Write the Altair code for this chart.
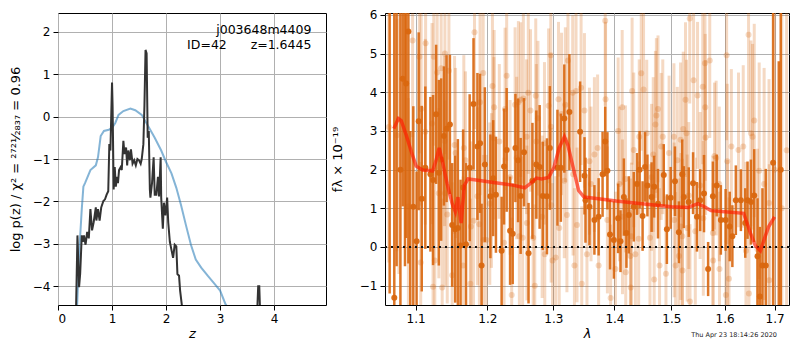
import altair as alt
import pandas as pd

# ---------------- Left panel: redshift probability ----------------
prior_z = [0.35, 0.39, 0.44, 0.47, 0.50, 0.60, 0.70, 0.74, 0.79, 0.85, 0.94, 1.00, 1.06, 1.12,
           1.21, 1.34, 1.43, 1.55, 1.67, 1.79, 1.91, 2.00, 2.10, 2.19, 2.28, 2.37, 2.46, 2.55,
           2.65, 2.77, 2.89, 3.00, 3.10, 3.20]
prior_logp = [-4.6, -3.25, -2.18, -1.65, -1.57, -1.26, -1.15, -0.96, -0.46, -0.34, -0.31, -0.27,
              -0.15, 0.04, 0.13, 0.19, 0.15, 0.04, -0.23, -0.5, -0.8, -1.07, -1.34, -1.68, -2.1,
              -2.57, -3.02, -3.37, -3.56, -3.75, -3.93, -4.1, -4.42, -4.6]

pz_z = [0.33, 0.36, 0.39, 0.41, 0.44, 0.46, 0.48, 0.51, 0.54, 0.57, 0.60, 0.63, 0.66, 0.70,
        0.71, 0.74, 0.77, 0.80, 0.84, 0.87, 0.90, 0.93, 0.95, 0.97, 1.00, 1.01, 1.03, 1.05,
        1.07, 1.09, 1.11, 1.13, 1.16, 1.18, 1.21, 1.23, 1.26, 1.28, 1.30, 1.33, 1.35, 1.38,
        1.41, 1.44, 1.47, 1.50, 1.53, 1.55, 1.58, 1.60, 1.62, 1.64, 1.66, 1.68, 1.70, 1.71,
        1.74, 1.77, 1.79, 1.82, 1.85, 1.87, 1.90, 1.91, 1.94, 1.96, 1.99, 2.02, 2.04, 2.07,
        2.10, 2.13, 2.16, 2.19, 2.21, 2.24, 2.26, 2.29, 2.32]
pz_logp = [-4.8, -2.8, -4.02, -3.71, -2.8, -2.95, -2.8, -3.02, -2.72, -2.87, -2.18, -2.68,
           -2.49, -2.14, -2.45, -2.18, -2.45, -2.14, -1.99, -1.95, -1.84, -1.76, -0.65, -0.8,
           0.8, 0.27, -1.72, -1.19, -1.65, -1.42, -1.57, -1.26, -1.19, -1.26, -0.57, -0.88,
           -0.73, -1.15, -0.8, -1.03, -0.77, -1.11, -1.03, -1.15, -1.0, -1.03, -1.11, -1.0,
           -0.65, 0.27, 1.57, 1.49, -0.5, -0.34, -1.72, -1.91, -1.57, -0.96, -1.84, -1.84,
           -1.42, -1.88, -0.96, -1.91, -2.64, -2.03, -2.33, -1.91, -2.49, -2.95, -3.14, -3.33,
           -3.02, -3.06, -3.71, -3.75, -4.1, -4.42, -4.8]
spike_z = [3.68, 3.705, 3.725, 3.745]
spike_logp = [-4.8, -4.0, -4.0, -4.8]

label_z = [4.69, 4.69]
label_logp = [2.03, 1.69]
label_text = ["j003648m4409", "ID=42\u00a0\u00a0\u00a0\u00a0\u00a0\u00a0z=1.6445"]

# ---------------- Right panel: spectrum ----------------
model_lam = [1.0714, 1.0773, 1.081, 1.0877, 1.0943, 1.1008, 1.1097, 1.123, 1.1274, 1.1319,
             1.1364, 1.143, 1.150, 1.1544, 1.158, 1.1625, 1.167, 1.1723, 1.1813, 1.209,
             1.2375, 1.2557, 1.2636, 1.2736, 1.2816, 1.2926, 1.3009, 1.3092, 1.3176, 1.323,
             1.3317, 1.3405, 1.3493, 1.373, 1.403, 1.4473, 1.500, 1.5305, 1.5488, 1.5612,
             1.5738, 1.600, 1.6375, 1.651, 1.661, 1.671, 1.681, 1.688, 1.700]
model_flux = [3.06, 3.32, 3.27, 2.89, 2.47, 2.09, 1.99, 1.97, 2.22, 2.56, 2.22, 1.63, 1.12,
              0.91, 1.29, 0.62, 1.59, 1.76, 1.74, 1.67, 1.60, 1.53, 1.63, 1.78, 1.76, 1.80,
              2.05, 2.56, 2.85, 2.64, 2.05, 1.46, 1.29, 1.25, 1.19, 1.12, 1.04, 1.02, 1.12,
              1.04, 0.94, 0.91, 0.87, 0.36, 0.03, -0.10, 0.28, 0.53, 0.78]

dark_lam = [1.066, 1.072, 1.075, 1.080, 1.083, 1.086, 1.0875, 1.0905, 1.093, 1.097, 1.1014,
            1.1042, 1.1083, 1.1131, 1.120, 1.1236, 1.1278, 1.1315, 1.1347, 1.1385, 1.1422,
            1.1468, 1.150, 1.1542, 1.1579, 1.1617, 1.1653, 1.1694, 1.1746, 1.1801, 1.1857,
            1.1895, 1.1917, 1.1964,
            1.2045, 1.2086, 1.2126, 1.221, 1.2246, 1.2285, 1.2336, 1.2375, 1.2416, 1.2456,
            1.2495, 1.2546, 1.2615, 1.2675, 1.2735, 1.2786, 1.2835, 1.290, 1.2945, 1.3065,
            1.3119, 1.3174, 1.3256, 1.3429, 1.3517, 1.3501,
            1.3582, 1.3664, 1.3734, 1.380, 1.3844, 1.3881, 1.3925, 1.399, 1.4063, 1.4103,
            1.4161, 1.4205, 1.4246, 1.4332, 1.4388, 1.4434, 1.4486, 1.453, 1.4571, 1.4645,
            1.4691, 1.4759, 1.4863, 1.4919, 1.4988, 1.5066, 1.5138, 1.520,
            1.5229, 1.532, 1.540, 1.5473, 1.5533, 1.5606, 1.5684, 1.5775, 1.5848, 1.5928,
            1.602, 1.610, 1.6152, 1.622, 1.632, 1.6406, 1.6452, 1.652, 1.6586, 1.6652,
            1.670, 1.6752, 1.682, 1.697, 1.7087, 1.7128]
dark_flux = [6.8, -1.31, 7.0, 2.0, 4.35, 6.5, 4.23, 5.57, -2.0, 1.04, 0.15,
             3.25, 1.25, 2.05, 1.88, 1.73, 3.43, 1.92, 2.26, 2.87, 3.06,
             3.17, 0.57, 0.46, 0.49, 0.04, 1.54, 0.07, 2.05, 3.7, 2.6,
             2.68, -0.48, 2.13,
             1.31, 1.78, 1.35, -0.1, 2.08, 2.51, 0.42, 0.34, 2.56, 2.24,
             1.32, 2.45, -0.16, 1.71, 2.13, 2.07, 1.32, 1.31, 2.56, 2.05,
             2.05, 3.32, 3.49, 2.98, 1.21, 1.84,
             1.04, 0.7, 0.78, 1.88, 2.73, 1.97, 0.32, 0.18, 0.74, 0.15,
             1.29, 0.36, 0.83, 1.04, 1.63, 2.0, 0.8, 2.07, 1.59, 1.29,
             1.56, 1.12, 1.86, 0.46, 1.27, 1.7, 0.38, 1.88,
             1.29, 1.16, 1.65, 0.78, 1.21, 1.38, -0.57, 1.31, 1.59, 0.7,
             0.7, 0.53, 0.28, 1.21, 1.21, 0.62, 1.21, 1.16, 1.33, -0.24,
             -1.28, -0.48, -0.48, 2.18, -3.0, 2.0]
dark_err = [8.0, 8.0, 7.5, 6.0, 3.3, 7.0, 4.0, 6.0, 5.0, 2.6, 1.8,
            2.3, 2.4, 2.1, 2.0, 2.2, 1.8, 2.4, 2.1, 1.8, 1.9,
            1.8, 1.6, 1.9, 2.3, 1.7, 1.5, 2.1, 1.9, 1.7, 1.9,
            1.8, 1.6, 2.0,
            1.6, 1.5, 1.5, 1.4, 1.5, 1.6, 1.4, 1.3, 1.4, 1.6,
            1.5, 1.4, 1.3, 1.5, 1.4, 1.6, 1.4, 1.5, 1.6, 1.5,
            1.4, 1.4, 1.5, 1.3, 1.1, 1.0,
            1.0, 0.9, 1.0, 1.1, 0.9, 1.0, 0.9, 1.0, 0.9, 0.8,
            1.0, 0.9, 1.0, 0.9, 0.8, 1.0, 0.9, 0.9, 0.8, 0.9,
            0.8, 0.9, 0.8, 0.9, 0.8, 0.9, 0.8, 0.9,
            0.8, 0.9, 0.8, 0.9, 0.8, 1.0, 0.7, 0.9, 0.8, 0.9,
            0.8, 0.9, 0.8, 0.9, 0.8, 0.9, 1.0, 1.1, 1.2, 1.5,
            1.8, 2.0, 2.5, 6.0, 7.8, 10.0]

light_lam = [1.065, 1.0753, 1.078, 1.0961, 1.1135, 1.1051, 1.1246, 1.1292, 1.1347, 1.1399,
             1.1454, 1.1075, 1.1222, 1.1131, 1.1394, 1.1533, 1.1663, 1.1547, 1.1686, 1.1315,
             1.1401, 1.1431, 1.0905, 1.1764, 1.1801, 1.1885, 1.1857, 1.1895, 1.194, 1.1815,
             1.1069, 1.126, 1.1236, 1.1361, 1.150, 1.1756, 1.1945, 1.1653,
             1.2075, 1.210, 1.2285, 1.2261, 1.2411, 1.2461, 1.2495, 1.2536, 1.2611, 1.2726,
             1.2645, 1.276, 1.296, 1.2926, 1.2962, 1.3082, 1.313, 1.3233, 1.3191, 1.3309,
             1.3363, 1.3445, 1.350, 1.2096, 1.2176, 1.2336, 1.2435, 1.2585, 1.2735, 1.2861,
             1.3174, 1.3315, 1.3379, 1.3216, 1.3093, 1.2966, 1.2825, 1.2686, 1.2525, 1.2476,
             1.2246, 1.2036, 1.206, 1.1986, 1.236, 1.2711, 1.2866, 1.2987, 1.3037, 1.3337,
             1.3456, 1.259,
             1.3844, 1.385, 1.4462, 1.4503, 1.4303, 1.4132, 1.4759, 1.473, 1.4713, 1.4063,
             1.4427, 1.4559, 1.4845, 1.5047, 1.5169, 1.4816, 1.4332, 1.3717, 1.3664, 1.3582,
             1.3608, 1.4188, 1.4674, 1.4645, 1.4959, 1.5109, 1.4086, 1.3881, 1.4137, 1.4291,
             1.4417, 1.4616, 1.5052, 1.5174, 1.3541, 1.3734, 1.4017, 1.4193, 1.4274, 1.436,
             1.4787, 1.4691, 1.4902, 1.5078, 1.5138, 1.3935, 1.428,
             1.5338, 1.6472, 1.5624, 1.5715, 1.604, 1.541, 1.5582, 1.5484, 1.526, 1.563,
             1.5218, 1.5278, 1.5636, 1.6586, 1.652, 1.6552, 1.6132, 1.6272, 1.6366, 1.5806,
             1.5837, 1.6052, 1.6686, 1.6786, 1.6886, 1.5533, 1.5897, 1.532, 1.5593, 1.5291,
             1.520, 1.5442, 1.5775, 1.6057, 1.642, 1.6652, 1.5205, 1.578, 1.5902, 1.6086,
             1.648, 1.6891, 1.5343, 1.6025, 1.700, 1.715, 1.725]
light_flux = [3.1, 2.89, 3.3, 5.34, 5.27, 4.92, 4.92, 4.51, 4.62, 5.0,
              4.56, 3.57, 3.19, 2.98, 2.74, 2.64, 2.56, 2.43, 2.24, 1.39,
              1.39, 0.84, 1.05, 0.53, 0.68, 0.59, 1.31, 3.74, 4.5, 5.55,
              -0.4, -0.35, -1.03, -1.05, -0.73, -0.95, 0.18, -0.48,
              4.16, 3.61, 4.43, 3.57, 3.68, 3.74, 3.81, 3.84, 3.99, 3.91,
              3.53, 3.33, 4.96, 3.65, 3.11, 3.82, 3.44, 4.82, 3.68, 3.99,
              4.03, 4.12, 3.53, 2.81, 2.73, 1.8, 2.3, 2.85, 2.73, 2.68,
              1.71, 1.88, 0.57, 0.83, 0.49, 1.08, 0.78, 0.24, 0.24, 0.28,
              0.11, 1.12, 1.46, 0.18, -1.24, -1.0, -0.19, -0.35, -0.27, -0.48,
              -0.95, 0.62,
              5.85, 3.82, 4.49, 4.07, 4.03, 3.61, 3.57, 3.4, 3.17, 3.0,
              2.85, 2.94, 2.85, 2.85, 2.77, 2.6, 2.51, 2.56, 2.39, 2.22,
              1.63, 1.76, 2.39, 1.8, 2.43, 2.24, 1.63, 0.7, 0.78, 0.28,
              0.21, 0.24, 0.7, 0.53, -0.19, -0.48, -0.57, -0.65, -0.23, -0.19,
              -0.48, -0.84, -0.69, -0.48, -0.23, -1.32, -1.05,
              5.91, 5.49, 4.75, 4.82, 4.96, 4.31, 4.14, 3.92, 3.81, 3.61,
              3.05, 2.94, 2.83, 3.27, 2.94, 2.85, 2.6, 2.51, 2.6, 2.35,
              2.3, 2.22, 1.97, 1.63, 1.14, 1.59, 1.63, 1.33, 0.74, 0.49,
              0.28, 0.41, 0.36, 0.15, -0.1, -0.06, -0.61, -0.35, -0.57, -0.82,
              -1.2, -0.86, -1.41, -1.24, 2.0, 1.0, 2.5]
light_err = [3.5, 3.0, 4.0, 2.5, 2.5, 2.5, 2.3, 2.5, 2.4, 2.6,
             2.3, 2.5, 2.6, 2.4, 2.2, 2.3, 2.4, 2.2, 2.3, 2.2,
             2.4, 2.3, 2.8, 2.2, 2.3, 2.1, 2.3, 2.4, 2.3, 2.5,
             2.6, 2.4, 2.5, 2.3, 2.4, 2.2, 2.2, 2.3,
             2.2, 2.0, 2.2, 2.1, 2.0, 2.1, 2.0, 2.2, 2.1, 2.0,
             2.1, 2.0, 2.2, 2.0, 1.9, 2.0, 2.1, 2.2, 2.0, 2.0,
             2.1, 2.0, 2.0, 2.1, 2.0, 2.0, 2.1, 2.0, 2.0, 2.1,
             2.0, 2.1, 2.0, 2.0, 2.1, 2.0, 2.1, 2.0, 2.1, 2.0,
             2.2, 2.1, 2.0, 2.2, 2.0, 2.1, 2.0, 2.0, 2.1, 2.0,
             2.0, 2.0,
             2.2, 2.0, 2.0, 2.0, 1.9, 2.0, 1.9, 2.0, 1.9, 1.9,
             2.0, 1.9, 2.0, 1.9, 2.0, 1.9, 2.0, 1.9, 2.0, 1.9,
             2.0, 1.9, 2.0, 1.9, 2.0, 1.9, 2.0, 1.9, 2.0, 1.9,
             2.0, 1.9, 2.0, 1.9, 2.0, 1.9, 2.0, 1.9, 2.0, 1.9,
             2.0, 1.9, 2.0, 1.9, 2.0, 1.9, 2.0,
             2.2, 2.5, 2.0, 2.0, 2.2, 2.0, 2.0, 1.9, 2.0, 1.9,
             2.0, 1.9, 2.0, 2.5, 2.4, 2.4, 2.0, 2.0, 2.1, 1.9,
             2.0, 2.0, 2.8, 3.0, 3.2, 1.9, 2.0, 1.9, 2.0, 1.9,
             2.0, 1.9, 2.0, 2.1, 2.3, 2.6, 1.9, 2.0, 2.0, 2.1,
             2.3, 3.0, 2.0, 2.1, 5.0, 6.0, 6.0]

zero_level = [0]
timestamp = ["Thu Apr 23 18:14:26 2020"]

ORANGE = "#d9670f"
FONT = "DejaVu Sans"
H = 292
WL = 268
WR = 404

# ---------------- build left ----------------
zscale = alt.Scale(domain=[0, 4.96], nice=False, zero=False)
lpscale = alt.Scale(domain=[-4.44, 2.44], nice=False, zero=False)
xz = alt.X("z:Q", scale=zscale,
           axis=alt.Axis(values=[0, 1, 2, 3, 4], title="z", titleFontStyle="italic",
                         titlePadding=3))
ylp = alt.Y("logp:Q", scale=lpscale,
            axis=alt.Axis(values=[-4, -3, -2, -1, 0, 1, 2],
                          title="log p(z) / \u03c7\u00b2 = \u00b2\u2077\u00b2\u00b9\u2044\u2082\u2088\u2083\u2087 = 0.96",
                          titlePadding=10))

prior_df = pd.DataFrame({"z": prior_z, "logp": prior_logp})
pz_df = pd.DataFrame({"z": pz_z + spike_z, "logp": pz_logp + spike_logp,
                      "seg": ["a"] * len(pz_z) + ["b"] * len(spike_z)})
lab_df = pd.DataFrame({"z": label_z, "logp": label_logp, "t": label_text})

prior_line = alt.Chart(prior_df).mark_line(color="#1f77b4", opacity=0.55, strokeWidth=2,
                                           clip=True).encode(x=xz, y=ylp)
pz_line = alt.Chart(pz_df).mark_line(color="#333333", strokeWidth=2, clip=True).encode(
    x=xz, y=ylp, detail="seg:N")
labels = alt.Chart(lab_df).mark_text(align="right", baseline="middle", fontSize=12.5,
                                     font=FONT, color="black").encode(x=xz, y=ylp, text="t:N")

left = alt.layer(prior_line, pz_line, labels).properties(width=WL, height=H)

# ---------------- build right ----------------
lscale = alt.Scale(type="log", domain=[1.06, 1.73], nice=False)
fscale = alt.Scale(domain=[-1.5, 6.05], nice=False, zero=False)
xl = alt.X("lam:Q", scale=lscale,
           axis=alt.Axis(values=[1.1, 1.2, 1.3, 1.4, 1.5, 1.6, 1.7], format=".1f",
                         title="\u03bb", titleFontStyle="italic", titlePadding=3))
yf_axis = alt.Axis(values=[-1, 0, 1, 2, 3, 4, 5, 6],
                   title="f\u03bb \u00d7 10\u207b\u00b9\u2079", titlePadding=15)

dark_df = pd.DataFrame({"lam": dark_lam, "flux": dark_flux, "err": dark_err})
dark_df["lo"] = dark_df["flux"] - dark_df["err"]
dark_df["hi"] = dark_df["flux"] + dark_df["err"]
light_df = pd.DataFrame({"lam": light_lam, "flux": light_flux, "err": light_err})
light_df["lo"] = light_df["flux"] - light_df["err"]
light_df["hi"] = light_df["flux"] + light_df["err"]
model_df = pd.DataFrame({"lam": model_lam, "flux": model_flux})

light_bars = alt.Chart(light_df).mark_rule(color=ORANGE, opacity=0.25, strokeWidth=3,
                                           clip=True).encode(
    x=xl, y=alt.Y("lo:Q", scale=fscale, axis=yf_axis), y2="hi:Q")
light_pts = alt.Chart(light_df).mark_circle(color=ORANGE, opacity=0.25, size=36,
                                            clip=True).encode(
    x=xl, y=alt.Y("flux:Q", scale=fscale, axis=yf_axis))
dark_bars = alt.Chart(dark_df).mark_rule(color=ORANGE, opacity=0.9, strokeWidth=2.5,
                                         clip=True).encode(
    x=xl, y=alt.Y("lo:Q", scale=fscale, axis=yf_axis), y2="hi:Q")
dark_pts = alt.Chart(dark_df).mark_circle(color=ORANGE, opacity=0.95, size=36,
                                          clip=True).encode(
    x=xl, y=alt.Y("flux:Q", scale=fscale, axis=yf_axis))
zero_line = alt.Chart(pd.DataFrame({"flux": zero_level})).mark_rule(
    color="#111111", strokeWidth=2, strokeDash=[2, 4]).encode(
    y=alt.Y("flux:Q", scale=fscale, axis=yf_axis))
model_line = alt.Chart(model_df).mark_line(color="#ff1a00", opacity=0.65, strokeWidth=3.5,
                                           clip=True).encode(
    x=xl, y=alt.Y("flux:Q", scale=fscale, axis=yf_axis))
stamp = alt.Chart(pd.DataFrame({"t": timestamp})).mark_text(
    align="right", baseline="middle", fontSize=6.5, font=FONT, color="#222222").encode(
    x=alt.value(WR - 12), y=alt.value(H + 30), text="t:N")

right = alt.layer(light_bars, light_pts, dark_bars, dark_pts, zero_line, model_line,
                  stamp).properties(width=WR, height=H)

chart = alt.hconcat(left, right, spacing=3).properties(padding=0).configure_view(
    stroke="black", strokeWidth=1
).configure_axis(
    grid=True, gridColor="#b0b0b0", gridWidth=1, domain=False,
    tickColor="black", tickSize=5, labelPadding=3,
    labelFont=FONT, labelFontSize=12, labelColor="black",
    titleFont=FONT, titleFontSize=13, titleFontWeight="normal", titleColor="black"
)

chart.save("out.html", embed_options={"renderer": "svg", "actions": False})
